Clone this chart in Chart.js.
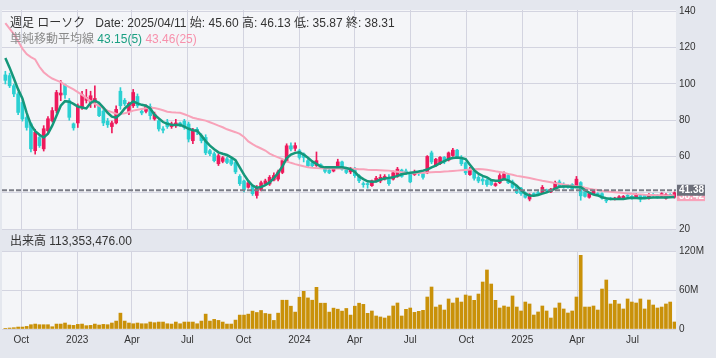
<!DOCTYPE html>
<html><head><meta charset="utf-8">
<script src="https://cdn.jsdelivr.net/npm/chart.js@4.4.1/dist/chart.umd.min.js"></script>
<style>
html,body{margin:0;padding:0;background:#e4e7ee;}
#wrap{position:relative;width:716px;height:358px;overflow:hidden;}
canvas{position:absolute;left:0;}
#c1{top:0;} #c2{top:229px;}
.t{position:absolute;left:10px;font-size:12px;line-height:14px;white-space:pre;color:#333;font-family:"Liberation Sans","Noto Sans CJK JP",sans-serif;z-index:5;}
</style></head><body>
<div id="wrap">
<canvas id="c1" width="716" height="240"></canvas>
<canvas id="c2" width="716" height="129"></canvas>
<div class="t" id="l1" style="top:16px"></div>
<div class="t" id="l2" style="top:32px"></div>
<div class="t" id="l3" style="top:234px"></div>
</div>
<script>
// Weekly candles, weeks starting Monday 2022-09-05
const opens=[105,104.6,99,94.5,89.8,81.5,78,63.2,70.5,64.2,74.2,79.7,85.3,93.9,99.5,90.8,78,78.5,87,91,90,90,89,85,79.5,76.5,78.5,96,91,84.7,88,93.1,84.9,84.9,87.5,80.7,79.7,75.2,79,76.5,77,78.5,79.5,77.9,68.7,75,71.5,70.5,63.2,61.5,56,57.3,58.7,58.2,56.7,49,46.5,43,44,38.5,41.5,45,44.8,47,47.5,51.2,57.7,65.9,64.5,63.2,61.4,57.7,56.5,55,55.5,53.3,52.5,52,54,57,53.3,51.5,53.3,49.4,45,45,43.9,46.5,46.5,47.5,48.5,47.5,49,52.5,52,50.5,50,51.5,50.5,51,62,55,56,59.5,58,60.5,63.5,59.5,56.5,50,52,48.5,47.5,47,46.5,44,45.5,47.5,49.5,46,43.5,42.5,40,36.5,39.5,40,40,41.5,40.5,42,46,44.5,43.5,44.5,44,45.60,40.5,37.5,39.5,39.5,39.5,36,37,36.5,37,37,38.5,38,37.5,38.5,38.5,37,39,38.5,38,37,39,37.5];
const highs=[107,106,100,95.5,91,82.5,78.5,75,72,77,82,87,96.5,101.9,100,92,78.5,89,96,97,96,99,90,86,81,79.5,88,98,92,90,97,94.5,86,88.5,89,84.5,81,76.5,80.5,79,80.5,79,80.5,79,75.5,76,72.5,72,64,62.5,61.5,60,59.5,59,57.5,50,47,46.5,44.5,44,46.5,47.5,49.5,51,52.5,58.5,67,67.5,67.5,64,62,58.5,57,62.5,56,54,53,54.5,58.5,57.5,54,54,54,50,46,45.5,47,49,50,50,50,52,54,53,53,51,52.5,52,51.5,60.5,63,59,60,60,62.5,64.5,64,60.5,57,54,52.5,49.5,48.5,47.5,47,45.5,50.5,51.5,50.5,47,44,43,40.5,39.5,40,41.5,44,42,42.5,46.5,47,45.5,44.5,45,49,46.13,41.5,40,41.5,40,40,37,37.5,37.5,38.5,38.5,39,38.5,39.5,39,39,39.5,39.5,39,40,39.5,39.5,40.5];
const lows=[100,98,93,83,79.5,74.5,62.5,61.3,65,63,73,79,84,90.8,92,80,74.5,76,86,89.5,87,87,82,77,76,73,78,86,88,83,87,87,83,84,80.5,80,74,73,75.5,75.5,76,76.5,75,68,67,72,67.5,61,60.5,57,55,56.5,56,55,50.5,44,40.5,42.5,38.5,37,41,44.5,44,46.5,46.5,50.5,57,63,63,58.5,57,54,54,54.5,53.5,51,50.5,51.5,53.5,52.5,50.5,50.5,48.5,45.5,43,42.5,43.5,46,45.5,47,44,47,48.5,48.5,50,45.5,49.5,49.5,47.5,50.5,56,54.5,55.5,56,57.5,60,59,55,50,49.5,47,45.5,44.5,43.5,44,43.5,45,47,45,42.5,39.5,38.5,37,35.5,38.5,38.5,39.5,40,40,41.5,43,42.5,42.5,41.5,43.5,35.87,37.5,37,39,38.5,36.5,34.5,36,36,36.5,36.5,37.5,36.5,37,35,37,36.5,38,37,37.5,36.5,38,37];
const closes=[102,99,94.5,84.3,80.7,76,64.2,73.3,66,75.3,80.8,85.3,95.3,95,94,81.6,75.8,88,94,92.5,93.5,92,82.5,78.5,77.5,78.5,86,88,89,89.3,95.3,88,84,87.5,82.5,83.4,75.2,74.5,76.5,78,78.5,77.5,76,69.6,74.2,73.5,68.7,62,61.5,57.7,60.4,59.3,56.7,55.8,51.5,45,41.5,45.5,39.5,43,45.5,46.5,48.5,49.5,51.5,57.7,65.9,64.1,66,59.5,59.5,54.9,54.9,57.7,54,51.8,51,54,57,53,51.2,53,49.4,46.6,44.5,44.5,46.6,48,48.5,49,45,51,53,49,51,46,51.5,50.5,48.5,60,57,58.5,59.5,57,62,63.5,59.5,56,51,53,48,46.5,46.5,44.5,44.5,45,49.5,50.5,45.5,43,40,39.5,37.5,39,39,39.5,43,41,42,45.5,43.5,43,43,42,47.5,38.31,38,39.5,41,39,37,35.5,36.5,37,37.8,38,38,37,39,36.5,37.5,39,38.5,37.5,39.5,39,38.5,40];
// weekly volume, millions of shares
const volume=[1,1.5,2,3,3,4,6.6,7.6,6.6,6.6,6.6,3.5,7.6,7.6,9.2,6.1,5.6,7.1,7.6,5.1,5.6,7.6,6.1,7.1,6.6,9.2,12.2,24.4,12.2,9.2,8.1,9.2,8.1,8.1,10.7,9.7,10.7,10.7,8.1,7.6,10.7,8.1,10.7,10.7,10.7,8.1,12.2,22.9,12.2,14.8,13.2,10.7,7.6,7.6,13.7,21.4,21.4,22.9,27.5,25.4,28.5,23.9,22.9,13.2,24.4,44.3,44.3,35.1,26,48.9,58,47.8,44.3,64.1,39.7,39.7,26,32.1,30.5,27.5,31.6,21.4,35.1,39.7,37.9,24.1,27.7,20,18.5,16.9,20,35.4,40,20,30.3,32.3,25.6,27.2,28.7,49.2,64.6,33.8,36.9,29.2,46.2,40,47.7,41.5,52.3,50.8,44.1,53.8,72.3,90.8,69.2,44.1,32.3,35.4,33.8,50.8,33.8,27.7,41.5,38.5,21.5,26.2,35.4,27.7,16.9,32.3,40,30.8,24.6,27.7,49.2,113.353476,33.8,33.8,35.4,29.2,61.5,75.4,38.5,44.1,38.5,30.8,46.2,41.5,40,46.2,30.8,44.6,36.9,32.3,33.8,38.5,41.5,10.8];
// simple moving averages as drawn
const ma5=[114.3,109,103,97,92,84,77.5,74,72,70.5,72.5,77,82.5,88,90.5,90.2,89,87.5,87,86.5,89.5,90.8,89.5,87,84.1,82,81.4,83.5,86.5,88.5,90.4,89.3,88.5,88,86.5,83,81,79,78,77.5,77.3,77.5,76.5,75.3,74.5,74.2,71.5,68.5,66,64,62.3,61.5,60.8,59.5,58,54,50,46.5,44,42.8,43.2,44.2,45.7,48,51,54.5,59,61,62,62.3,61,59.3,57.3,55.9,54.5,54,54,54,54,54,53.6,53,51.5,49,47.5,46.3,46,46.2,47.3,47.8,48.2,48.5,49.3,50.2,50.6,51,51.3,51.7,52.2,52.8,54,55,56.3,57.5,58.6,59.2,59.5,59.2,58.6,55.5,52.5,50.5,49.3,48.5,47,46.6,46.6,47.5,46.8,45.5,43.9,41.5,39.5,38.5,38.4,38.8,39.5,40.2,41.2,42.3,43.3,43.4,43.5,43.3,43,43.15,41.5,40,39,38.5,37.5,37,36.6,36.5,36.5,36.6,37,37.2,37.1,36.9,37,37.2,37.4,37.4,37.4,37.4,37.5,37.6];
const ma25=[133.5,130.5,127.5,123.5,119.5,116.5,114.8,113.5,109.5,106.5,104.5,103,102,101,99.5,98.3,97,95.5,94,92.3,90.5,89,88,86.5,85.3,84.5,83.6,83.4,83.8,84.5,85.3,85.8,86.2,86.6,86.9,86.7,86.2,85.5,84.7,84.4,84.2,84.1,83.3,82.4,81.4,80.8,80.3,79.8,78.9,78,77,76.1,75,74.2,73.4,72.5,70.8,68.3,66.8,65.5,64.4,63.3,61.6,60.5,59.5,58.5,57.3,56.5,55.8,55.2,54.6,54.1,53.8,53.6,53.5,53.4,53.4,53.4,53.4,53.4,53.4,53.3,53.2,53,52.9,52.7,52.6,52.5,52.4,52.3,52.2,51.9,51.6,51.3,51,50.7,50.8,50.9,51,51.1,51.3,51.4,51.5,51.7,51.8,52,52.2,52.4,52.6,52.8,53,53.1,53,52.7,52.3,51.8,51.4,51,50.4,49.9,49.3,48.9,48.5,48.1,47.6,47.1,46.6,46.2,45.8,45.3,44.9,44.5,44.1,43.8,43.6,43.46,42.8,42.2,41.8,41.5,41.1,40.8,40.5,40.3,40.1,39.8,39.6,39.4,39.2,39.1,38.9,38.8,38.7,38.6,38.55,38.5,38.45,38.42];
const lastPrice=41.38;
const priceTicks=[20,40,60,80,100,120,140];
const volTicks=[0,60,120];
const hoverIndex=135;

const DAY=86400000, START=Date.UTC(2022,8,5);
const xs=opens.map((_,i)=>i*7);
const XMIN=-5.5, XMAX=1101.5;
const quarters=[];
for(let y=2022;y<=2025;y++)for(const m of [0,3,6,9]){const d=(Date.UTC(y,m,1)-START)/DAY;if(d>XMIN&&d<XMAX)quarters.push({d,label:m===0?String(y):['','Apr','Jul','Oct'][m/3]});}
const qTicks=ax=>{ax.ticks=quarters.map(q=>({value:q.d}));};
const qLabel=v=>{const q=quarters.find(q=>Math.abs(q.d-v)<0.01);return q?q.label:'';};

const UP='#ee1a5c',DOWN='#2bd0d2',MA5C='#15977a',MA25C='#f8a2b9',GRID='#d3d4e0',PLOT='#f4f5f8';
const isUp=i=>closes[i]>=opens[i];

// header texts from data
const fmt=v=>v.toFixed(2);
const hd=new Date(START+(hoverIndex*7+4)*DAY);
const ds=hd.getUTCFullYear()+'/'+String(hd.getUTCMonth()+1).padStart(2,'0')+'/'+String(hd.getUTCDate()).padStart(2,'0');
document.getElementById('l1').textContent='週足 ローソク   Date: '+ds+' 始: '+fmt(opens[hoverIndex])+' 高: '+fmt(highs[hoverIndex])+' 低: '+fmt(lows[hoverIndex])+' 終: '+fmt(closes[hoverIndex]);
document.getElementById('l2').innerHTML='<span style="color:#8a8a8a">単純移動平均線</span> <span style="color:#1a9f82">'+fmt(ma5[hoverIndex])+'(5)</span> <span style="color:#f791ac">'+fmt(ma25[hoverIndex])+'(25)</span>';
document.getElementById('l3').textContent='出来高 '+(volume[hoverIndex]*1e6).toLocaleString('en-US',{minimumFractionDigits:2,maximumFractionDigits:2});

Chart.defaults.font.family='"Liberation Sans", Arial, sans-serif';
Chart.defaults.font.size=10;
Chart.defaults.color='#333';

const plotBg={id:'plotBg',beforeDraw(c){const a=c.chartArea,x=c.ctx;x.save();x.fillStyle=PLOT;x.fillRect(a.left,a.top,a.right-a.left,a.bottom-a.top);x.restore();}};
const tags={id:'tags',afterDraw(c){const y=c.scales.y,ctx=c.ctx,a=c.chartArea;
  const items=[[ma25[ma25.length-1],MA25C],[lastPrice,'#6c6f7a']];
  ctx.save();ctx.font='bold 10px "Liberation Sans", Arial';ctx.textBaseline='middle';ctx.textAlign='left';
  for(const [v,col] of items){const py=y.getPixelForValue(v);ctx.fillStyle=col;ctx.fillRect(a.right+1,py-5.5,28,11);ctx.fillStyle='#fff';ctx.fillText(v.toFixed(2),a.right+3,py+0.5);}
  ctx.restore();}};

const yRight=(min,max,ticks,cb)=>({position:'right',min,max,afterBuildTicks:ax=>{ax.ticks=ticks.map(v=>({value:v}));},
  grid:{color:GRID,drawTicks:false},border:{display:false},ticks:{padding:3,callback:cb},afterFit:ax=>{ax.width=40;}});

new Chart(document.getElementById('c1'),{
  type:'bar',
  data:{datasets:[
    {type:'line',data:[{x:XMIN,y:lastPrice},{x:XMAX,y:lastPrice}],borderColor:'#7b7d87',borderWidth:2,borderDash:[5,2],pointRadius:0,order:0},
    {type:'line',data:xs.map((x,i)=>({x,y:ma5[i]})),borderColor:MA5C,borderWidth:2.5,pointRadius:0,order:1},
    {type:'line',data:xs.map((x,i)=>({x,y:ma25[i]})),borderColor:MA25C,borderWidth:2,pointRadius:0,order:2},
    {data:xs.map((x,i)=>({x,y:[Math.min(opens[i],closes[i]),Math.max(opens[i],closes[i])]})),backgroundColor:c=>isUp(c.dataIndex)?UP:DOWN,barThickness:3,minBarLength:1,grouped:false,order:3},
    {data:xs.map((x,i)=>({x,y:[lows[i],highs[i]]})),backgroundColor:c=>isUp(c.dataIndex)?UP:DOWN,barThickness:1,grouped:false,order:4}
  ]},
  options:{responsive:false,animation:false,events:[],
    layout:{padding:{left:2,top:10,right:0,bottom:11}},
    plugins:{legend:{display:false},tooltip:{enabled:false}},
    scales:{
      x:{type:'linear',min:XMIN,max:XMAX,offset:false,afterBuildTicks:qTicks,grid:{color:GRID,drawTicks:false,offset:false},border:{display:false},ticks:{display:false}},
      y:yRight(20,140.8,priceTicks,v=>String(v))
    }},
  plugins:[plotBg,tags]
});

new Chart(document.getElementById('c2'),{
  type:'bar',
  data:{datasets:[{data:xs.map((x,i)=>({x,y:volume[i]})),backgroundColor:'#c99109',barThickness:3}]},
  options:{responsive:false,animation:false,events:[],
    layout:{padding:{left:2,top:22,right:0,bottom:0}},
    plugins:{legend:{display:false},tooltip:{enabled:false}},
    scales:{
      x:{type:'linear',min:XMIN,max:XMAX,offset:false,afterBuildTicks:qTicks,grid:{color:GRID,drawTicks:false,offset:false},border:{display:false},
         ticks:{callback:qLabel,padding:5,maxRotation:0,autoSkip:false},afterFit:ax=>{ax.height=29;}},
      y:yRight(0,120,volTicks,v=>v===0?'0':v+'M')
    }},
  plugins:[plotBg]
});
</script>
</body></html>
